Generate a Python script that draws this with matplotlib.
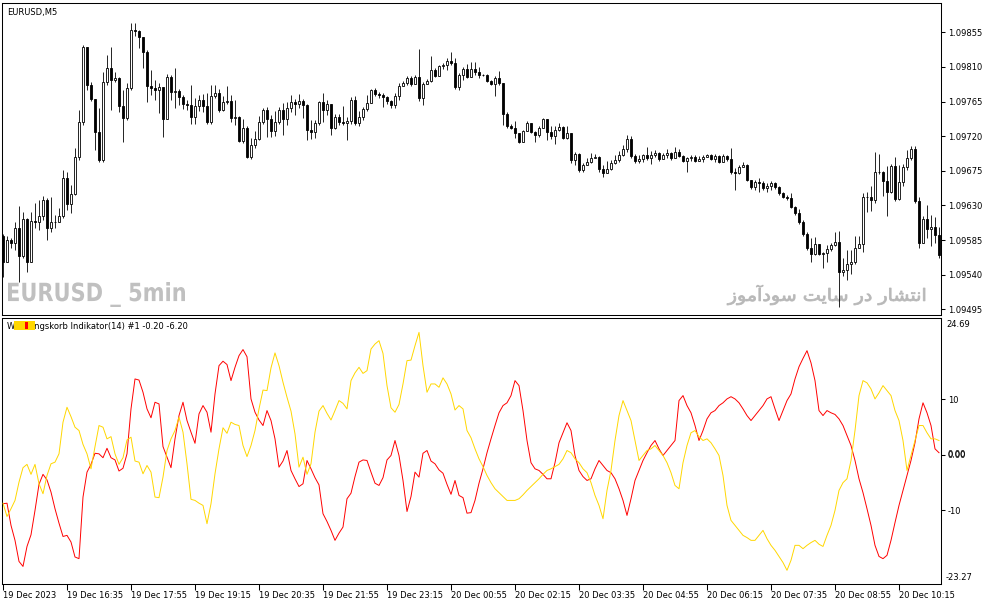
import numpy as np
import matplotlib
matplotlib.use("Agg")
import matplotlib.pyplot as plt
from matplotlib.patches import PathPatch, Rectangle
from matplotlib.textpath import TextPath
from matplotlib.font_manager import FontProperties
from matplotlib.transforms import Affine2D

W, H = 987, 605
plt.rcParams['font.family'] = ['DejaVu Sans']
plt.rcParams['font.size'] = 6

# EURUSD M5 candles, prices in points above 1.09000
first_open = 590
close = [556,585,581,601,564,612,556,610,609,616, 637,601,609,609,616,666,632,645,693,738,
         836,787,768,725,689,790,809,793,796,759, 744,783,858,857,849,829,785,783,780,784,
         742,797,777,779,771,762,761,745,759,767, 759,738,772,776,754,764,766,744,745,714,
         731,693,709,716,738,754,742,727,738,754, 742,757,764,762,766,761,728,725,737,764,
         754,762,731,745,738,737,740,767,737,745, 755,763,780,775,774,771,766,761,772,785,
         789,796,788,797,770,788,792,806,798,811, 812,818,815,784,800,807,797,807,803,800,
         800,792,788,796,789,749,733,731,724,712, 727,737,725,722,731,742,725,720,728,732,
         718,724,689,697,676,682,686,692,693,677, 672,677,685,689,695,703,716,694,688,690,
         695,692,695,698,690,695,698,692,699,694, 688,692,693,688,690,693,695,690,694,686,
         694,690,673,672,680,682,663,654,660,659, 653,655,659,654,646,641,640,628,620,608,
         593,575,567,580,567,568,573,578,582,543, 546,554,556,575,580,641,641,637,673,673,
         662,647,681,638,660,680,692,703,636,581, 612,599,602,592,566]
high = [593,590,588,608,629,621,614,621,633,637, 642,640,641,618,627,676,673,657,705,754,
        839,836,790,763,757,803,826,836,803,797, 780,789,867,867,858,842,832,806,793,789,
        784,801,800,809,781,774,767,787,770,774, 775,776,787,787,781,772,785,774,767,746,
        742,733,718,727,746,757,758,748,753,758, 763,764,774,768,775,768,762,741,741,766,
        776,767,759,749,749,759,745,771,772,753, 758,774,781,783,777,776,772,767,776,789,
        792,798,798,800,833,790,794,824,809,812, 815,822,829,822,802,810,814,816,816,810,
        801,801,793,798,805,789,751,736,740,724, 728,740,736,727,733,744,741,733,733,737,
        733,733,724,699,698,685,692,698,697,694, 682,688,689,695,701,708,722,720,697,695,
        697,706,701,702,699,698,703,699,706,703, 695,693,695,695,694,695,697,697,697,695,
        697,695,705,679,682,686,684,663,663,666, 662,659,662,660,655,647,643,646,629,625,
        611,595,588,589,580,569,578,581,595,597, 562,572,572,590,590,646,647,655,699,697,
        675,681,684,693,682,684,702,707,707,641, 616,631,618,615,602]
low = [537,562,575,572,530,562,543,556,601,598, 611,585,595,601,609,614,624,620,644,689,
       735,780,766,702,686,686,787,754,790,751, 712,741,780,850,835,809,764,774,767,750,
       719,754,767,757,761,755,754,736,736,753, 751,736,736,770,751,753,762,738,735,712,
       711,692,690,705,715,736,719,719,720,736, 722,735,751,748,757,744,715,716,718,735,
       738,748,722,729,735,735,715,736,735,733, 741,753,763,772,770,758,762,757,757,767,
       785,787,785,789,766,761,788,790,797,802, 807,806,812,781,780,793,796,802,800,796,
       798,790,787,772,787,735,731,729,718,711, 712,728,724,712,719,731,715,716,710,727,
       716,716,685,682,673,673,682,685,692,673, 667,673,676,684,686,694,699,692,685,685,
       686,689,684,693,688,690,692,689,693,693, 686,673,688,686,689,686,693,689,686,685,
       688,688,671,650,671,680,662,651,650,647, 650,647,650,651,643,640,637,627,618,606,
       590,572,556,565,565,549,556,571,577,498, 538,533,541,554,577,569,621,623,633,671,
       642,616,646,636,637,655,676,689,633,575, 581,588,577,581,562]

# indicator lines
red_line = [-8.8,-8.7,-12.7,-15.4,-19.2,-20.1,-16.5,-14.4,-10.0,-5.3,
            -3.5,-4.5,-6.7,-9.7,-12.3,-14.7,-14.5,-15.7,-18.4,-18.7,
            -7.6,-3.1,-1.7,0.3,0.2,-0.5,1.2,-0.5,-0.9,-2.9,
            -2.4,0.2,8.3,13.7,13.5,11.3,8.3,6.7,9.5,9.2,
            1.5,-0.4,-2.3,2.9,7.1,9.5,6.2,4.1,2.1,7.4,
            8.9,7.7,4.1,11.0,16.1,16.9,16.3,13.4,15.8,17.9,
            19.0,17.7,10.1,7.7,6.3,5.3,8.0,6.2,2.9,-2.2,
            -1.1,0.8,-2.8,-4.3,-5.7,-5.2,-1.0,-2.5,-4.1,-5.4,
            -10.6,-12.0,-13.6,-15.4,-14.1,-13.0,-7.9,-6.9,-3.9,-1.3,
            -0.9,-1.0,-3.1,-5.1,-5.5,-4.1,-0.9,-0.1,2.6,-0.1,
            -4.6,-10.2,-7.5,-3.1,-4.0,0.3,0.8,-1.1,-1.6,-2.7,
            -3.3,-5.3,-7.1,-4.6,-7.3,-7.7,-10.5,-10.4,-8.2,-5.1,
            -2.5,0.4,2.9,5.3,7.6,8.9,9.4,10.7,13.4,12.5,
            8.0,2.6,-1.4,-2.5,-2.8,-3.5,-4.3,-4.3,-1.4,2.2,
            4.0,5.8,4.4,-0.1,-2.8,-3.9,-4.6,-4.3,-2.5,-1.0,
            -1.9,-2.8,-3.2,-4.3,-6.1,-8.2,-10.9,-7.9,-4.6,-2.8,
            -1.0,0.4,1.7,2.6,1.1,-0.1,0.8,1.7,2.6,9.8,
            10.7,8.9,7.6,5.3,2.6,4.4,6.5,7.6,8.0,8.9,
            9.4,10.1,10.5,10.1,9.4,8.3,7.1,6.2,7.1,8.0,
            8.9,10.1,10.5,8.3,6.2,8.0,9.8,11.0,13.7,15.9,
            17.4,18.8,16.6,13.4,8.0,7.1,8.0,7.6,7.3,6.5,
            5.3,3.5,1.7,-1.0,-4.3,-6.8,-9.7,-12.7,-16.3,-18.3,
            -18.7,-18.1,-15.4,-12.2,-9.1,-6.4,-3.7,-1.0,2.2,6.5,
            9.4,7.6,5.3,1.1,0.4]
gold_line = [-8.7,-11.1,-9.7,-8.2,-4.9,-2.3,-1.7,-3.5,-1.7,-5.2,
             -7.0,-3.7,-1.6,-1.3,0.2,5.9,8.6,6.9,5.0,4.4,
             1.9,0.2,-2.5,1.5,5.3,5.0,2.9,3.3,0.2,-1.7,
             -0.5,2.7,3.2,-1.1,-1.3,-3.4,-1.9,-3.1,-7.6,-7.7,
             -4.0,0.8,2.9,4.4,6.8,4.1,-1.6,-8.0,-8.2,-8.7,
             -9.1,-12.4,-8.8,-3.4,1.1,4.9,3.9,5.9,5.5,5.3,
             1.7,-0.3,1.7,4.4,8.3,11.7,11.6,15.7,18.4,16.1,
             13.1,10.4,7.9,3.8,-2.2,-0.4,-3.5,-1.6,4.1,7.9,
             8.9,7.5,6.3,8.0,9.8,9.3,8.3,13.4,14.8,15.8,
             14.7,15.2,19.1,20.0,20.6,18.3,12.5,8.5,7.7,9.1,
             12.8,17.0,17.1,19.7,22.1,16.1,11.3,12.8,12.8,12.2,
             13.9,12.8,11.0,8.1,8.9,8.3,4.4,3.1,1.1,-0.7,
             -2.1,-3.7,-5.0,-6.1,-6.8,-7.5,-8.2,-8.2,-8.2,-7.9,
             -7.2,-6.4,-5.7,-5.0,-4.3,-3.5,-2.8,-2.5,-2.1,-1.7,
             -0.7,0.8,0.4,-0.7,-1.4,-2.5,-3.2,-5.0,-7.3,-9.1,
             -11.5,-6.4,-2.8,2.6,7.1,9.8,8.0,6.2,2.6,-1.0,
             -0.1,0.8,1.1,1.7,0.8,-0.1,-1.4,-3.2,-5.5,-6.1,
             -1.4,1.7,4.0,4.4,3.3,2.6,2.9,2.2,1.1,-0.1,
             -3.7,-9.1,-11.8,-12.7,-13.6,-14.5,-14.9,-15.4,-15.4,-14.5,
             -13.6,-15.1,-16.3,-17.2,-18.3,-19.4,-20.8,-19.0,-16.3,-16.3,
             -16.9,-16.3,-15.8,-15.4,-16.1,-16.5,-14.5,-12.7,-10.0,-6.4,
             -5.0,-4.3,-1.0,4.4,10.7,13.4,13.0,11.9,10.1,11.2,
             12.5,11.6,10.7,8.0,6.2,2.6,-2.8,-0.1,2.6,5.3,
             5.3,4.0,2.9,2.9,2.6]

price_ticks = [1.09495, 1.09540, 1.09585, 1.09630, 1.09675, 1.09720, 1.09765, 1.09810, 1.09855]
ind_ticks = [10, 0, -10]
ind_tick_labels = ["10", "0.00", "-10"]
time_labels = ["19 Dec 2023", "19 Dec 16:35", "19 Dec 17:55", "19 Dec 19:15", "19 Dec 20:35",
               "19 Dec 21:55", "19 Dec 23:15", "20 Dec 00:55", "20 Dec 02:15", "20 Dec 03:35",
               "20 Dec 04:55", "20 Dec 06:15", "20 Dec 07:35", "20 Dec 08:55", "20 Dec 10:15"]
# "انتشار در سایت سودآموز" written with joined presentation forms, in display order
watermark_fa = "\ufeaf\ufeee\ufee3\ufe81\ufea9\ufeee\ufeb3 \ufe96\ufef3\ufe8e\ufeb3 \ufead\ufea9 \ufead\ufe8e\ufeb8\ufe98\ufee7\ufe8d"

pt = 1e-5
c = 1.09 + np.array(close) * pt
o = np.r_[1.09 + first_open * pt, c[:-1]]
h = np.maximum(1.09 + np.array(high) * pt, np.maximum(o, c))
l = np.minimum(1.09 + np.array(low) * pt, np.minimum(o, c))
x = np.arange(len(c))

fig = plt.figure(figsize=(W / 100, H / 100), dpi=100)
fig.patch.set_facecolor('white')

def px_box(x0, y0, x1, y1):
    return [x0 / W, 1 - y1 / H, (x1 - x0) / W, (y1 - y0) / H]

ax = fig.add_axes(px_box(2, 3, 941, 315))
ax2 = fig.add_axes(px_box(2, 318, 941, 584))

# candles: white body = up, black body = down
up = c >= o
ax.vlines(x, l, h, color='black', lw=0.6, zorder=2)
blo = np.minimum(o, c)
bh = np.abs(c - o)
ax.bar(x[up], bh[up], bottom=blo[up], width=0.6, color='white', edgecolor='black',
       lw=0.6, zorder=3)
ax.bar(x[~up], bh[~up], bottom=blo[~up], width=0.6, color='black', edgecolor='black',
       lw=0.6, zorder=3)

ax.set_xlim(-0.25, 234.5)
ax.set_ylim(1.094875, 1.098931)
ax.yaxis.tick_right()
ax.set_yticks(price_ticks)
ax.set_yticklabels(["%.5f" % v for v in price_ticks])
ax.tick_params(axis='y', direction='out', length=3, width=0.75, pad=2, labelsize=6, colors='black')
ax.tick_params(axis='x', bottom=False, labelbottom=False)

# indicator
ax2.plot(x, red_line, color='#ff0000', lw=0.7, zorder=2)
ax2.plot(x, gold_line, color='#ffd700', lw=0.7, zorder=3)
ax2.set_xlim(-0.25, 234.5)
ax2.set_ylim(-23.27, 24.69)
ax2.yaxis.tick_right()
ax2.set_yticks(ind_ticks)
ax2.set_yticklabels(ind_tick_labels)
ax2.tick_params(axis='y', direction='out', length=3, width=0.75, pad=2, labelsize=6, colors='black')
ax2.set_xticks(np.arange(len(time_labels)) * 16)
ax2.set_xticklabels(time_labels, ha='left')
ax2.tick_params(axis='x', direction='out', length=4, width=0.75, pad=1, labelsize=6, colors='black')
ax2.annotate("0.00", xy=(1, 0), xycoords=('axes fraction', 'data'), xytext=(7, 0),
             textcoords='offset pixels', va='center', ha='left', fontsize=6)
ax2.annotate("24.69", xy=(1, 1), xycoords='axes fraction', xytext=(5, -2),
             textcoords='offset pixels', va='top', ha='left', fontsize=6)
ax2.annotate("-23.27", xy=(1, 0), xycoords='axes fraction', xytext=(5, 2),
             textcoords='offset pixels', va='bottom', ha='left', fontsize=6)

for a in (ax, ax2):
    for s in a.spines.values():
        s.set_linewidth(0.75)
        s.set_color('black')

fig.text(7 / W, 1 - 12 / H, "EURUSD,M5", va='center', ha='left', fontsize=6)
fig.text(7 / W, 1 - 326 / H, "Währungskorb Indikator(14) #1 -0.20 -6.20", va='center', ha='left', fontsize=6)
fig.patches.append(Rectangle((14 / W, 1 - 330 / H), 21 / W, 9 / H, transform=fig.transFigure,
                             fc='#ffd700', ec='none', zorder=5))
fig.patches.append(Rectangle((25 / W, 1 - 329 / H), 3 / W, 7 / H, transform=fig.transFigure,
                             fc='#ff0000', ec='none', zorder=6))

def fit_text(a, s, box, color, weight, stroke=0.0):
    x0, y0, x1, y1 = box
    tp = TextPath((0, 0), s, size=20, prop=FontProperties(family='DejaVu Sans', weight=weight))
    e = tp.get_extents()
    tr = (Affine2D().translate(-e.x0, -e.y0)
          .scale((x1 - x0) / e.width, (y1 - y0) / e.height)
          .translate(x0, H - y1).scale(1 / W, 1 / H) + fig.transFigure)
    a.add_patch(PathPatch(tp, transform=tr, fc=color, ec=color if stroke else 'none',
                          lw=stroke, zorder=0.5, clip_on=False))

fit_text(ax, "EURUSD _ 5min", (8, 282, 185, 307), '#c0c0c0', 'bold')
fit_text(ax, watermark_fa, (727, 285, 925, 305), '#b8b8b8', 'normal', stroke=0.6)

fig.savefig('out.png', dpi=100)
